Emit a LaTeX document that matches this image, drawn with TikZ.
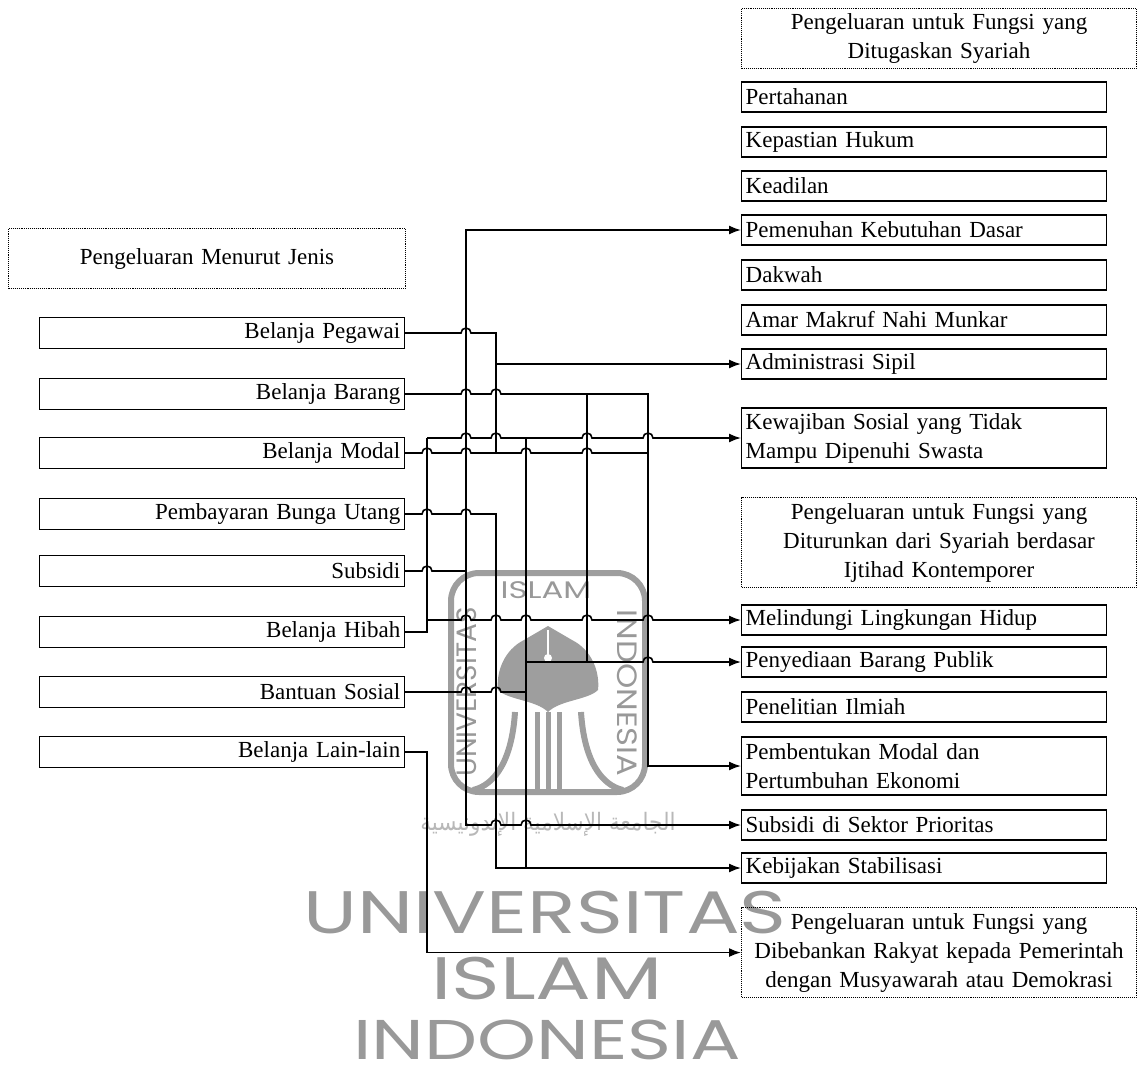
\documentclass[tikz,border=0pt]{standalone}
\usepackage{fontspec}
\setmainfont{Liberation Serif}
\newfontfamily\wmfont{Poppins}
\newfontfamily\arabicfont[Script=Arabic]{DejaVu Sans}
\TeXXeTstate=1
\usetikzlibrary{arrows.meta,calc}

\tikzset{
  kotak/.style={draw, line width=1.4pt, inner sep=4pt, minimum height=30pt},
  kiri/.style={kotak, text width=357pt, align=right, anchor=east, minimum height=31pt},
  kanan/.style={kotak, text width=357pt, align=left, anchor=west},
  judul/.style={draw, densely dotted, line width=1.1pt, inner sep=0pt, align=center, anchor=north west},
  garis/.style={line width=1.6pt},
  panah/.style={garis, -{Latex[length=12pt,width=9pt]}},
  tanda/.style={text=black!40, inner sep=0pt}
}
\newcommand\lompat[2]{-- ($(#1 -| #2)+(-5pt,0)$) arc[start angle=180,end angle=0,radius=5pt]}

\begin{document}
\begin{tikzpicture}[x=1pt,y=-1pt,font=\fontsize{23}{29}\selectfont]
\useasboundingbox (0,0) rectangle (1141,1073);

\begin{scope}[black!38]
  \draw[line width=6pt,rounded corners=28pt] (451,573) rectangle (645,792);
  \fill (548,626) -- (572,640) .. controls (592,650) and (600,672) .. (598,690)
        .. controls (588,700) and (560,700) .. (548,712)
        .. controls (536,700) and (508,700) .. (498,690)
        .. controls (496,672) and (504,650) .. (524,640) -- cycle;
  \draw[white,line width=2pt] (548,630) -- (548,655);
  \fill[white] (548,658) circle (4pt);
  \draw[line width=6pt] (515,712) .. controls (512,760) and (495,785) .. (473,790);
  \draw[line width=6pt] (581,712) .. controls (584,760) and (601,785) .. (623,790);
  \draw[line width=5pt] (537,712) -- (537,790) (548,712) -- (548,790) (559,712) -- (559,790);
\end{scope}
\node[tanda, font=\wmfont\fontsize{24}{24}\selectfont, xscale=1.35] (logoislam) at (546,590) {ISLAM};
\node[tanda, font=\wmfont\fontsize{28}{28}\selectfont, rotate=90] (logouniv) at (467,692) {UNIVERSITAS};
\node[tanda, font=\wmfont\fontsize{28}{28}\selectfont, rotate=-90, xscale=1.15] (logoindo) at (627,693) {INDONESIA};
\node[tanda, text=black!28, font=\arabicfont\fontsize{24}{24}\selectfont, xscale=0.9] (logoarab) at (548,824) {\beginR الجامعة الإسلامية الإندونيسية\endR};
\node[tanda, font=\wmfont\fontsize{60}{60}\selectfont, xscale=1.33] (wm1) at (545,913) {UNIVERSITAS};
\node[tanda, font=\wmfont\fontsize{60}{60}\selectfont, xscale=1.38] (wm2) at (547,979) {ISLAM};
\node[tanda, font=\wmfont\fontsize{56}{56}\selectfont, xscale=1.34] (wm3) at (547,1040) {INDONESIA};

\node[judul, text width=397pt, minimum height=60pt] (jenis) at (8,228) {Pengeluaran Menurut Jenis};
\node[kiri] (pegawai) at (405,333) {Belanja Pegawai};
\node[kiri] (barang) at (405,394) {Belanja Barang};
\node[kiri] (modal) at (405,453) {Belanja Modal};
\node[kiri] (bunga) at (405,514) {Pembayaran Bunga Utang};
\node[kiri] (subsidi) at (405,571) {Subsidi};
\node[kiri] (hibah) at (405,632) {Belanja Hibah};
\node[kiri] (bansos) at (405,692) {Bantuan Sosial};
\node[kiri] (lain) at (405,752) {Belanja Lain-lain};

\node[judul, text width=395pt, minimum height=60pt] (judul1) at (741,8) {Pengeluaran untuk Fungsi yang\\Ditugaskan Syariah};
\node[kanan] (pertahanan) at (741,97) {Pertahanan};
\node[kanan] (kepastian) at (741,142) {Kepastian Hukum};
\node[kanan] (keadilan) at (741,186) {Keadilan};
\node[kanan] (pemenuhan) at (741,230) {Pemenuhan Kebutuhan Dasar};
\node[kanan] (dakwah) at (741,275) {Dakwah};
\node[kanan] (amar) at (741,320) {Amar Makruf Nahi Munkar};
\node[kanan] (admin) at (741,364) {Administrasi Sipil};
\node[kanan, minimum height=60pt] (kewajiban) at (741,438) {Kewajiban Sosial yang Tidak\\Mampu Dipenuhi Swasta};
\node[judul, text width=395pt, minimum height=90pt] (judul2) at (741,497) {Pengeluaran untuk Fungsi yang\\Diturunkan dari Syariah berdasar\\Ijtihad Kontemporer};
\node[kanan] (melindungi) at (741,620) {Melindungi Lingkungan Hidup};
\node[kanan] (penyediaan) at (741,662) {Penyediaan Barang Publik};
\node[kanan] (penelitian) at (741,707) {Penelitian Ilmiah};
\node[kanan, minimum height=58pt] (pembentukan) at (741,766) {Pembentukan Modal dan\\Pertumbuhan Ekonomi};
\node[kanan] (subsidisp) at (741,825) {Subsidi di Sektor Prioritas};
\node[kanan] (stabilisasi) at (741,868) {Kebijakan Stabilisasi};
\node[judul, text width=395pt, minimum height=90pt] (judul3) at (741,907) {Pengeluaran untuk Fungsi yang\\Dibebankan Rakyat kepada Pemerintah\\dengan Musyawarah atau Demokrasi};

\coordinate (b1) at (427,0);
\coordinate (b2) at (466,0);
\coordinate (b3) at (496,0);
\coordinate (b4) at (526,0);
\coordinate (b5) at (587,0);
\coordinate (b6) at (648,0);

\draw[garis] (pegawai.east) \lompat{pegawai.east}{b2} -- (pegawai.east -| b3) -- (modal.east -| b3);
\draw[panah] (admin.west -| b3) -- (admin.west);
\draw[panah] (barang.east) \lompat{barang.east}{b2} \lompat{barang.east}{b3} -- (barang.east -| b6) -- (pembentukan.west -| b6) -- (pembentukan.west);
\draw[garis] (barang.east -| b5) -- (penyediaan.west -| b5);
\draw[garis] (modal.east) \lompat{modal.east}{b1} \lompat{modal.east}{b2} -- (modal.east -| b3) \lompat{modal.east}{b4} \lompat{modal.east}{b5} -- (modal.east -| b6);
\draw[garis] (hibah.east) -- (hibah.east -| b1) -- (kewajiban.west -| b1);
\draw[panah] (kewajiban.west -| b1) \lompat{kewajiban.west}{b2} \lompat{kewajiban.west}{b3} -- (kewajiban.west -| b4) \lompat{kewajiban.west}{b5} \lompat{kewajiban.west}{b6} -- (kewajiban.west);
\draw[panah] (melindungi.west -| b1) \lompat{melindungi.west}{b2} \lompat{melindungi.west}{b3} \lompat{melindungi.west}{b4} \lompat{melindungi.west}{b5} \lompat{melindungi.west}{b6} -- (melindungi.west);
\draw[panah] (bunga.east) \lompat{bunga.east}{b1} \lompat{bunga.east}{b2} -- (bunga.east -| b3) -- (stabilisasi.west -| b3) -- (stabilisasi.west);
\draw[panah] (subsidi.east) \lompat{subsidi.east}{b1} -- (subsidi.east -| b2) -- (subsidisp.west -| b2) \lompat{subsidisp.west}{b3} \lompat{subsidisp.west}{b4} -- (subsidisp.west);
\draw[panah] (subsidi.east -| b2) -- (pemenuhan.west -| b2) -- (pemenuhan.west);
\draw[garis] (bansos.east) \lompat{bansos.east}{b2} \lompat{bansos.east}{b3} -- (bansos.east -| b4);
\draw[garis] (kewajiban.west -| b4) -- (stabilisasi.west -| b4);
\draw[panah] (penyediaan.west -| b4) \lompat{penyediaan.west}{b6} -- (penyediaan.west);
\draw[panah] (lain.east) -- (lain.east -| b1) -- (judul3.west -| b1) -- (judul3.west);
\end{tikzpicture}
\end{document}
